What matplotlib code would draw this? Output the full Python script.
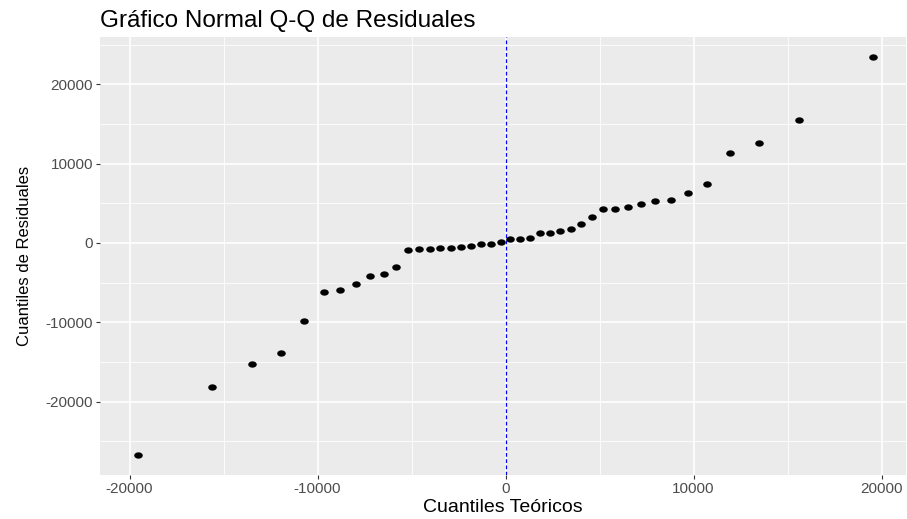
import matplotlib
matplotlib.use('Agg')
import matplotlib.pyplot as plt
from matplotlib.path import Path
from matplotlib.transforms import Affine2D

plt.rcParams['font.family'] = ['Liberation Sans', 'DejaVu Sans']

# Cuantiles teóricos (eje x) y cuantiles de los residuales (eje y)
cuantiles_teoricos = [
    -19540, -15600, -13480, -11930, -10710, -9680, -8790, -7960, -7200, -6490, -5820,
    -5180, -4590, -4025, -3460, -2910, -2360, -1835, -1310, -780, -250,
    250, 780, 1310, 1835, 2360, 2910, 3460, 4025, 4590, 5180,
    5820, 6490, 7200, 7960, 8790, 9680, 10710, 11930, 13480, 15600, 19540,
]
cuantiles_residuales = [
    -26730, -18200, -15260, -13870, -9800, -6140, -5930, -5130, -4120, -3870, -3070,
    -920, -800, -720, -590, -590, -460, -340, -130, -130, 90,
    460, 540, 670, 1220, 1220, 1470, 1800, 2400, 3320, 4330,
    4330, 4540, 4920, 5340, 5420, 6340, 7480, 11350, 12610, 15470, 23420,
]
linea_ref_x = 0

ticks_x = [-20000, -10000, 0, 10000, 20000]
ticks_y = [-20000, -10000, 0, 10000, 20000]
menores_x = [-15000, -5000, 5000, 15000]
menores_y = [-25000, -15000, -5000, 5000, 15000, 25000]

fig = plt.figure(figsize=(9.07, 5.19), dpi=100)
ax = fig.add_axes([100 / 907, 44 / 519, 806 / 907, 438 / 519])
ax.set_facecolor('#EBEBEB')
for s in ax.spines.values():
    s.set_visible(False)

# rejilla estilo ggplot
for v in menores_x:
    ax.axvline(v, color='white', lw=0.6, zorder=0)
for v in menores_y:
    ax.axhline(v, color='white', lw=0.6, zorder=0)
for v in ticks_x:
    ax.axvline(v, color='white', lw=1.2, zorder=0)
for v in ticks_y:
    ax.axhline(v, color='white', lw=1.2, zorder=0)

# marcador ovalado (la imagen original está estirada en horizontal)
ovalo = Path.unit_circle().transformed(Affine2D().scale(1.35, 1.0))
ax.scatter(cuantiles_teoricos, cuantiles_residuales, marker=ovalo, s=38,
           color='black', linewidths=0, zorder=3)

ax.axvline(linea_ref_x, color='blue', lw=0.9, linestyle=(0, (3, 2)), zorder=2)

ax.set_xlim(-21570, 21300)
ax.set_ylim(-29260, 25980)
ax.set_xticks(ticks_x)
ax.set_yticks(ticks_y)
ax.set_xticklabels([str(t) for t in ticks_x])
ax.set_yticklabels([str(t) for t in ticks_y])
ax.tick_params(axis='both', length=3, width=0.8, color='#333333',
               labelcolor='#4D4D4D', labelsize=11, pad=2)

ax.set_title('Gráfico Normal Q-Q de Residuales', loc='left', fontsize=17.5,
             color='black', pad=7)
ax.set_xlabel('Cuantiles Teóricos', fontsize=14, labelpad=2)
ax.set_ylabel('Cuantiles de Residuales', fontsize=12, labelpad=10)

fig.savefig('out.png', dpi=100)
